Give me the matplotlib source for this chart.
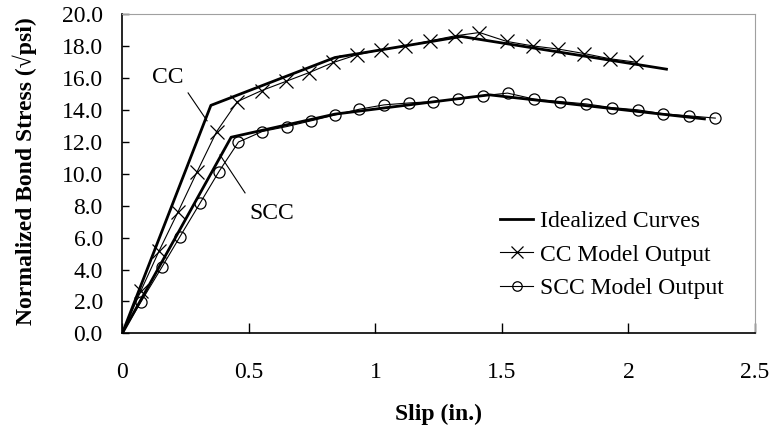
import numpy as np
import matplotlib
matplotlib.use('Agg')
import matplotlib.pyplot as plt
from matplotlib.ticker import FormatStrFormatter

plt.rcParams['font.family'] = ['Liberation Serif', 'DejaVu Serif']

# idealized curves (slip in., normalized bond stress)
cc_ideal_x = [0.0, 0.35, 0.84, 1.34, 2.15]
cc_ideal_y = [0.0, 14.3, 17.3, 18.62, 16.57]
scc_ideal_x = [0.0, 0.43, 0.84, 1.45, 2.30]
scc_ideal_y = [0.0, 12.3, 13.75, 14.96, 13.45]

# model output
cc_model_x = [0.0, 0.073, 0.146, 0.221, 0.296, 0.373, 0.455, 0.551, 0.646, 0.739,
              0.834, 0.926, 1.021, 1.117, 1.216, 1.315, 1.411, 1.519, 1.622, 1.723,
              1.825, 1.928, 2.03]
cc_model_y = [0.0, 2.65, 5.19, 7.64, 10.15, 12.66, 14.54, 15.23, 15.8, 16.36,
              16.99, 17.47, 17.78, 18.0, 18.35, 18.66, 18.87, 18.31, 18.03, 17.83,
              17.55, 17.22, 17.01]
scc_model_x = [0.0, 0.074, 0.156, 0.228, 0.307, 0.382, 0.459, 0.553, 0.65, 0.746,
               0.841, 0.937, 1.034, 1.132, 1.229, 1.328, 1.424, 1.522, 1.628, 1.73,
               1.833, 1.934, 2.036, 2.138, 2.241, 2.343]
scc_model_y = [0.0, 1.98, 4.14, 6.07, 8.16, 10.15, 12.0, 12.66, 12.97, 13.33,
               13.7, 14.06, 14.33, 14.45, 14.54, 14.69, 14.9, 15.07, 14.69, 14.54,
               14.39, 14.16, 14.02, 13.77, 13.64, 13.5]

fs = 17

fig = plt.figure(figsize=(7.74, 4.34), dpi=100)
ax = fig.add_axes([0.158, 0.232, 0.8175, 0.7346])

ax.plot(cc_ideal_x, cc_ideal_y, color='black', lw=2.0, label='Idealized Curves', zorder=3)
ax.plot(scc_ideal_x, scc_ideal_y, color='black', lw=2.0, zorder=3)
ax.plot(cc_model_x, cc_model_y, color='black', lw=0.8, marker='x', markersize=10,
        markeredgewidth=0.9, markevery=list(range(1, len(cc_model_x))),
        label='CC Model Output')
ax.plot(scc_model_x, scc_model_y, color='black', lw=0.8, marker='o', markersize=8,
        markerfacecolor='none', markeredgewidth=0.9,
        markevery=list(range(1, len(scc_model_x))), label='SCC Model Output')

# curve labels with leader lines
ax.text(0.179, 16.06, 'CC', fontsize=fs, ha='center', va='center')
ax.plot([0.26, 0.335], [15.08, 13.33], color='black', lw=0.8)
ax.text(0.592, 7.49, 'SCC', fontsize=fs, ha='center', va='center')
ax.plot([0.386, 0.485], [11.19, 8.81], color='black', lw=0.8)

ax.set_xlim(0, 2.5)
ax.set_ylim(0, 20)
ax.set_xticks([0, 0.5, 1, 1.5, 2, 2.5])
ax.set_xticklabels(['0', '0.5', '1', '1.5', '2', '2.5'])
ax.set_yticks(np.arange(0, 20.1, 2))
ax.yaxis.set_major_formatter(FormatStrFormatter('%.1f'))
ax.tick_params(axis='x', direction='in', length=7, width=1, labelsize=fs, pad=21)
ax.tick_params(axis='y', direction='in', length=5, width=1, labelsize=fs, pad=14)

for s in ['top', 'right']:
    ax.spines[s].set_color('#a0a0a0')
for s in ['left', 'bottom']:
    ax.spines[s].set_color('black')
    ax.spines[s].set_linewidth(1.2)

ax.set_xlabel('Slip (in.)', fontsize=fs, fontweight='bold')
ax.set_ylabel('Normalized Bond Stress (\u221apsi)', fontsize=fs, fontweight='bold')
ax.xaxis.set_label_coords(0.499, -0.222)
ax.yaxis.set_label_coords(-0.135, 0.51)

ax.legend(loc='center left', bbox_to_anchor=(0.597, 0.246), frameon=False, fontsize=fs,
          borderpad=0, borderaxespad=0, handlelength=1.4, handletextpad=0.3,
          labelspacing=0.5, markerscale=0.85)

fig.savefig('out.png', dpi=100)
